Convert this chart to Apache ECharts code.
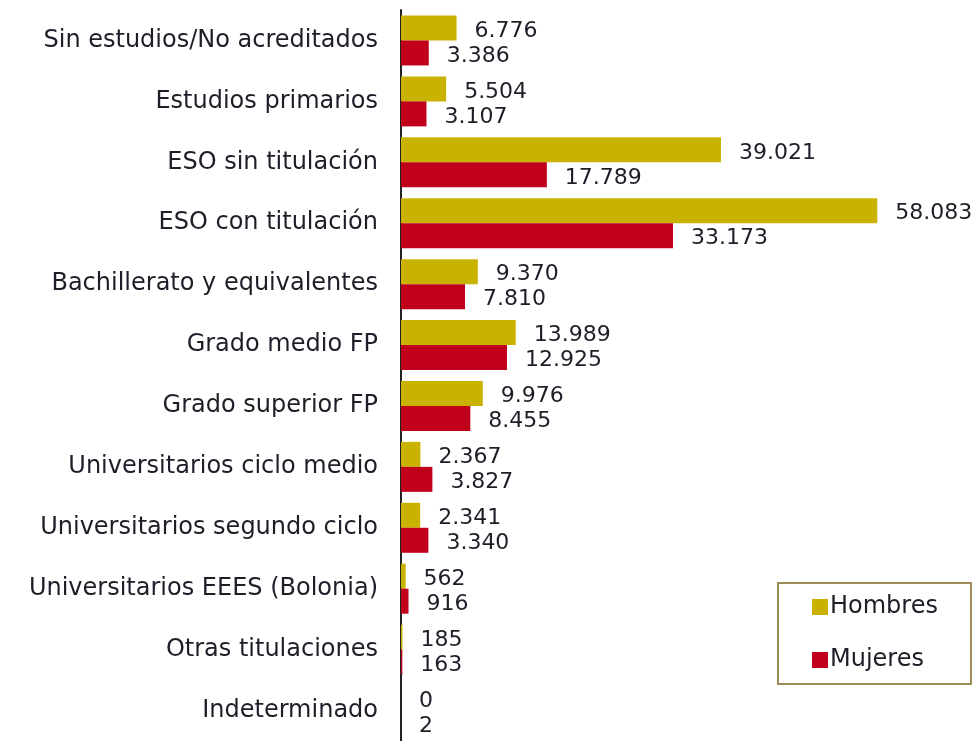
<!DOCTYPE html>
<html>
<head>
<meta charset="utf-8">
<script src="https://cdn.jsdelivr.net/npm/echarts@6/dist/echarts.min.js"></script>
<style>
    html, body { margin: 0; padding: 0; background: #fff; }
    #nivelChart { width: 972px; height: 741px; }
</style>
</head>
<body>
<div id="nivelChart"></div>
<script>
// datos del gráfico
const categorias = [
    'Sin estudios/No acreditados',
    'Estudios primarios',
    'ESO sin titulación',
    'ESO con titulación',
    'Bachillerato y equivalentes',
    'Grado medio FP',
    'Grado superior FP',
    'Universitarios ciclo medio',
    'Universitarios segundo ciclo',
    'Universitarios EEES (Bolonia)',
    'Otras titulaciones',
    'Indeterminado'
];
const hombres = [6776, 5504, 39021, 58083, 9370, 13989, 9976, 2367, 2341, 562, 185, 0];
const mujeres = [3386, 3107, 17789, 33173, 7810, 12925, 8455, 3827, 3340, 916, 163, 2];

// separador de miles con punto
function formatoES(v) {
    return String(v).replace(/\B(?=(\d{3})+(?!\d))/g, '.');
}

const fuente = 'DejaVu Sans, Liberation Sans, Arial, sans-serif';

let nivelChart = echarts.init(document.getElementById('nivelChart'));

let etiqueta = {
    show: true,
    position: 'right',
    distance: 18,
    offset: [0, 3],
    color: '#1e1e28',
    fontFamily: fuente,
    fontSize: 22,
    formatter: function (p) {
        return formatoES(p.value);
    }
};

let nivelOptions = {
    animation: false,
    textStyle: { fontFamily: fuente },
    grid: {
        left: 401,
        top: 10,
        width: 492,
        height: 736
    },
    legend: {
        orient: 'vertical',
        left: 778,
        top: 583,
        data: ['Hombres', 'Mujeres'],
        icon: 'rect',
        itemWidth: 16,
        itemHeight: 16,
        itemGap: 25,
        padding: [10, 33, 10, 34],
        borderColor: '#9c8c5a',
        borderWidth: 2,
        textStyle: {
            fontFamily: fuente,
            fontSize: 24,
            lineHeight: 28,
            color: '#1e1e28',
            padding: [0, 0, 0, -3]
        }
    },
    xAxis: {
        type: 'value',
        min: 0,
        max: 60000,
        show: false
    },
    yAxis: {
        type: 'category',
        inverse: true,
        data: categorias,
        axisLine: { show: true, lineStyle: { color: '#222', width: 2 } },
        axisTick: { show: false },
        axisLabel: {
            color: '#1e1e28',
            fontFamily: fuente,
            fontSize: 24,
            margin: 23,
            padding: [4, 0, 0, 0]
        }
    },
    series: [
        {
            name: 'Hombres',
            type: 'bar',
            data: hombres,
            barWidth: 25,
            barGap: '0%',
            itemStyle: { color: '#c9b300' },
            label: etiqueta
        },
        {
            name: 'Mujeres',
            type: 'bar',
            data: mujeres,
            barWidth: 25,
            itemStyle: { color: '#c0001a' },
            label: etiqueta
        }
    ]
};

nivelChart.setOption(nivelOptions);
</script>
</body>
</html>
